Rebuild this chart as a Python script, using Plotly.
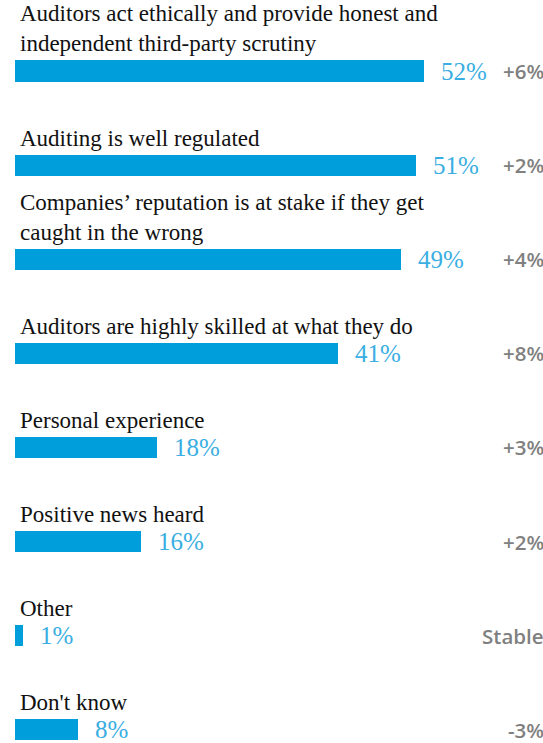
import plotly.graph_objects as go

categories = [
    "Auditors act ethically and provide honest and<br>independent third-party scrutiny",
    "Auditing is well regulated",
    "Companies’ reputation is at stake if they get<br>caught in the wrong",
    "Auditors are highly skilled at what they do",
    "Personal experience",
    "Positive news heard",
    "Other",
    "Don't know",
]
values = [52, 51, 49, 41, 18, 16, 1, 8]
changes = ["+6%", "+2%", "+4%", "+8%", "+3%", "+2%", "Stable", "-3%"]

BAR_COLOR = "#009fdc"
VALUE_COLOR = "#3aaee2"
CHANGE_COLOR = "#808080"
SERIF = "Liberation Serif"

positions = list(range(len(categories)))
bar_width = 0.225

fig = go.Figure(
    go.Bar(
        x=values,
        y=positions,
        orientation="h",
        width=bar_width,
        marker=dict(color=BAR_COLOR, line=dict(width=0)),
        hoverinfo="skip",
    )
)

for pos, cat, val, chg in zip(positions, categories, values, changes):
    # category label sitting above the bar
    fig.add_annotation(
        x=0.4, y=pos - bar_width / 2, xref="x", yref="y",
        text=cat, showarrow=False, xanchor="left", yanchor="bottom",
        align="left", yshift=2,
        font=dict(family=SERIF, size=23, color="#111111"),
    )
    # value label next to the bar end
    fig.add_annotation(
        x=val, y=pos, xref="x", yref="y",
        text=f"{val}%", showarrow=False, xanchor="left", yanchor="middle",
        xshift=15,
        font=dict(family=SERIF, size=25, color=VALUE_COLOR),
    )
    # change versus previous year, right aligned
    fig.add_annotation(
        x=1, y=pos, xref="paper", yref="y",
        text=chg, showarrow=False, xanchor="right", yanchor="middle",
        xshift=3,
        font=dict(family="Open Sans", size=20.5, color=CHANGE_COLOR, weight=600),
    )

px_per_unit = 7.87
left_px = 15
fig.update_layout(
    width=543, height=743,
    margin=dict(l=0, r=0, t=0, b=0),
    font=dict(family=SERIF),
    paper_bgcolor="white", plot_bgcolor="white",
    showlegend=False,
    bargap=0,
    xaxis=dict(range=[-left_px / px_per_unit, (543 - left_px) / px_per_unit],
               visible=False, fixedrange=True),
    yaxis=dict(range=[(743 - 71) / 94.1, -71 / 94.1], visible=False, fixedrange=True),
)

fig.write_html("out.html")
